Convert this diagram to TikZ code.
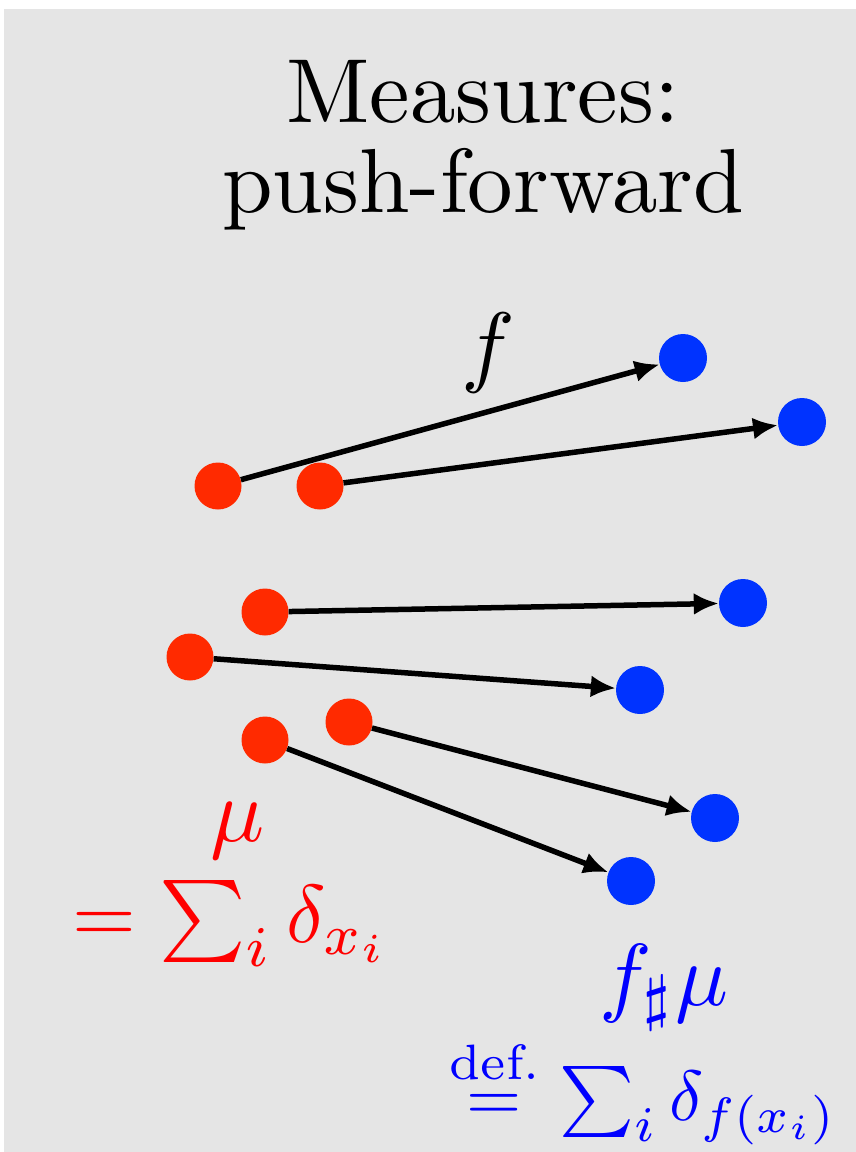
\documentclass[tikz,border=0pt]{standalone}
\usepackage{amsmath}
\usetikzlibrary{arrows.meta}
\definecolor{bggray}{HTML}{E5E5E5}
\definecolor{dotred}{HTML}{FF2A00}
\definecolor{dotblue}{HTML}{0033FF}
\definecolor{txtred}{HTML}{FF0000}
\definecolor{txtblue}{HTML}{0000FF}
\tikzset{
  reddot/.style={circle,fill=dotred,inner sep=0pt,minimum size=47pt},
  bluedot/.style={circle,fill=dotblue,inner sep=0pt,minimum size=48pt},
  arr/.style={line width=5.5pt,-{Latex[length=25pt,width=22pt]}},
  titletext/.style={inner sep=0pt,anchor=base,scale=9.1},
  bigmath/.style={inner sep=0pt,scale=#1}
}
\begin{document}
\begin{tikzpicture}[x=1pt,y=-1pt]
\useasboundingbox (0,0) rectangle (856,1152);
\fill[white] (0,0) rectangle (856,1152);
\fill[bggray] (4,9) rectangle (856,1152);
\node[titletext] (t1) at (483,122) {Measures:};
\node[titletext] (t2) at (483,212) {push-forward};
% dots
\node[reddot] (r1) at (218,486) {};
\node[reddot] (r2) at (320,486) {};
\node[reddot] (r3) at (265,612) {};
\node[reddot] (r4) at (190,657) {};
\node[reddot] (r5) at (349,722) {};
\node[reddot] (r6) at (265,740) {};
\node[bluedot] (b1) at (683,358) {};
\node[bluedot] (b2) at (802,422) {};
\node[bluedot] (b3) at (743,603) {};
\node[bluedot] (b4) at (640,690) {};
\node[bluedot] (b5) at (715,818) {};
\node[bluedot] (b6) at (631,881) {};
\draw[arr] (r1) -- (b1);
\draw[arr] (r2) -- (b2);
\draw[arr] (r3) -- (b3);
\draw[arr] (r4) -- (b4);
\draw[arr] (r5) -- (b5);
\draw[arr] (r6) -- (b6);
\node[bigmath=9,anchor=base] (f) at (488,375) {$f$};
\node[bigmath=9,anchor=base,text=txtred] (mu) at (238,841) {$\mu$};
\node[bigmath=8.2,anchor=base west,text=txtred] (mueq) at (71,942) {$=\sum_i\delta_{x_i}$};
\node[bigmath=8.8,anchor=base,text=txtblue] (fmu) at (664,1005) {$f_\sharp\mu$};
\node[bigmath=7.1,anchor=base west,text=txtblue] (fmueq) at (448,1120) {$\overset{\text{def.}}{=}\sum_i\delta_{f(x_i)}$};
\end{tikzpicture}
\end{document}
